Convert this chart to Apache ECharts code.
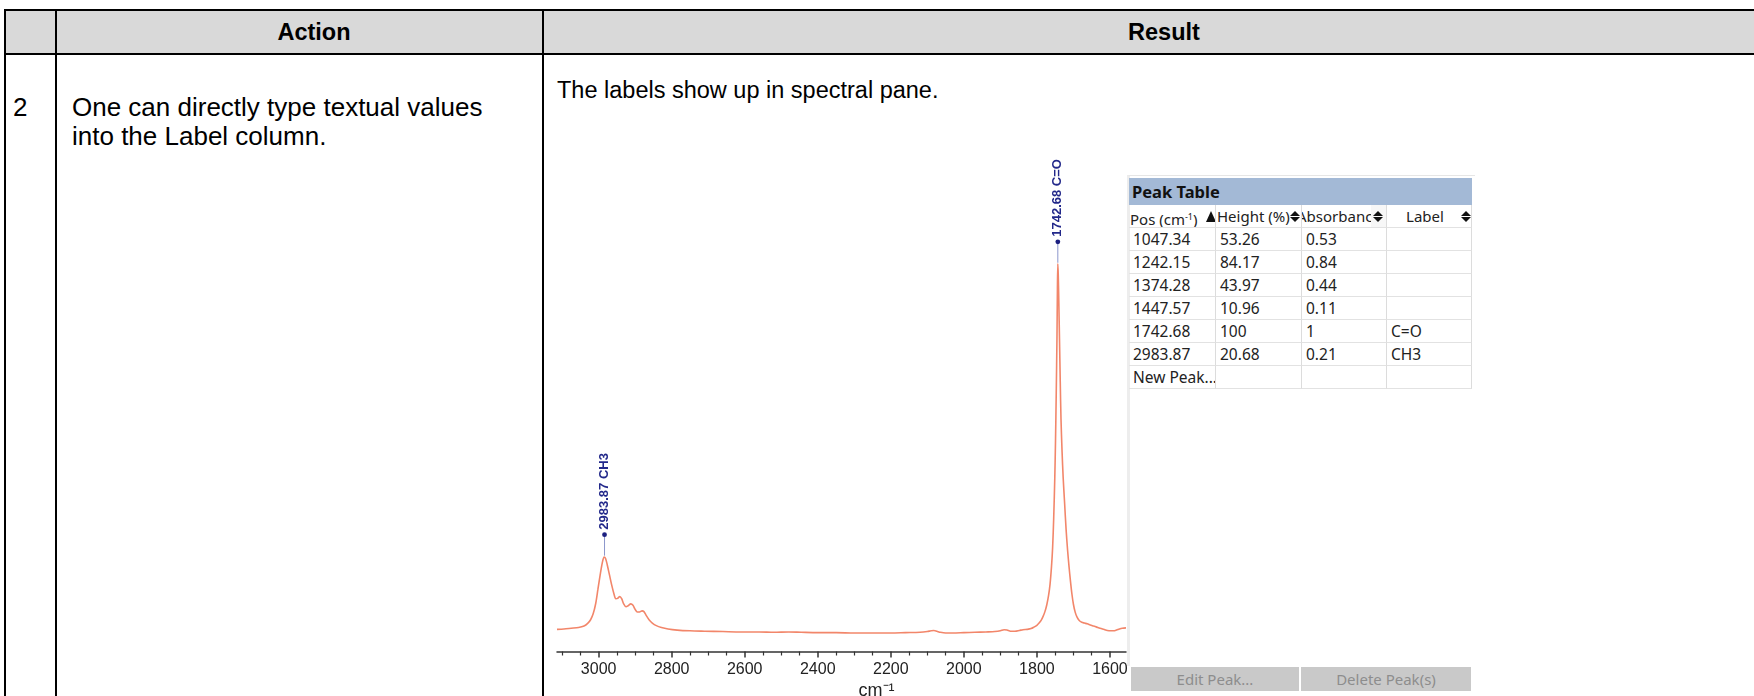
<!DOCTYPE html>
<html>
<head>
<meta charset="utf-8">
<script src="https://cdn.jsdelivr.net/npm/echarts@6/dist/echarts.min.js"></script>
<style>
html,body{margin:0;padding:0;background:#fff;width:1754px;height:696px;overflow:hidden;font-family:"Liberation Sans",Arial,sans-serif;color:#000;}
.a{position:absolute;}
.ln{position:absolute;background:#000;}
#chart{position:absolute;left:0;top:0;width:1754px;height:696px;}
.doc{position:absolute;white-space:nowrap;}
.hdr{position:absolute;font-size:23.5px;font-weight:bold;line-height:44px;top:10px;text-align:center;}
#panel{position:absolute;left:1127px;top:175px;width:345px;height:490px;border-top:1px solid #e6e6e6;border-left:3px solid #ededed;background:#fff;}
#ptbar{position:absolute;left:1129px;top:178px;width:343px;height:27px;background:#a3b9d6;font-family:"Noto Sans","Open Sans",sans-serif;font-weight:bold;font-size:16.5px;line-height:27px;color:#111;padding-left:3px;box-sizing:border-box;}
#pt{position:absolute;left:1129px;top:205px;font-family:"Noto Sans","Open Sans",sans-serif;font-size:15.5px;color:#222;}
.row{position:relative;height:23px;white-space:nowrap;}
.cell{position:absolute;top:0;height:23px;line-height:23px;border-right:1px solid #dcdcdc;border-bottom:1px solid #e2e2e2;box-sizing:border-box;padding-left:4px;overflow:hidden;}
.hrow .cell{font-size:15px;}
.sort{position:absolute;width:10px;height:11px;top:6px;}
.sort:before{content:"";position:absolute;left:0;top:0;border-left:5px solid transparent;border-right:5px solid transparent;border-bottom:5px solid #111;}
.sort:after{content:"";position:absolute;left:0;top:6px;border-left:5px solid transparent;border-right:5px solid transparent;border-top:5px solid #111;}
.asc{position:absolute;width:0;height:0;top:6px;border-left:5px solid transparent;border-right:5px solid transparent;border-bottom:11px solid #111;}
.btn{position:absolute;top:667px;height:24px;background:#c9c9c9;color:#8d8d8d;font-family:"Noto Sans","Open Sans",sans-serif;font-size:15px;line-height:24px;text-align:center;}
</style>
</head>
<body>
<!-- document table frame -->
<div class="a" style="left:5px;top:10px;width:1749px;height:44px;background:#d9d9d9;"></div>
<div class="ln" style="left:4px;top:9px;width:1750px;height:2px;"></div>
<div class="ln" style="left:4px;top:53px;width:1750px;height:2px;"></div>
<div class="ln" style="left:4px;top:9px;width:2px;height:687px;"></div>
<div class="ln" style="left:55px;top:9px;width:2px;height:687px;"></div>
<div class="ln" style="left:542px;top:9px;width:2px;height:687px;"></div>
<div class="hdr" style="left:128px;width:372px;">Action</div>
<div class="hdr" style="left:544px;width:1240px;">Result</div>
<div class="doc" style="left:13px;top:93px;font-size:26px;line-height:29px;">2</div>
<div class="doc" style="left:72px;top:93px;font-size:26px;line-height:29px;">One can directly type textual values<br>into the Label column.</div>
<div class="doc" style="left:557px;top:77px;font-size:23.5px;line-height:26px;">The labels show up in spectral pane.</div>

<div id="chart"></div>

<div id="panel"></div>
<div id="ptbar">Peak Table</div>
<div id="pt"></div>
<div class="btn" style="left:1131px;width:168px;">Edit Peak...</div>
<div class="btn" style="left:1301px;width:170px;">Delete Peak(s)</div>

<script>
// ---- spectrum (wavenumber cm-1, normalised height %) ----
const wavenumber = [3114,3095,3075,3055,3040,3030,3022,3015,3008,3002,2996,2990,2985,2981,2976,2970,2964,2958,2953,2948,2942,2937,2931,2925,2919,2912,2906,2900,2894,2888,2881,2876,2870,2862,2853,2842,2828,2810,2785,2750,2710,2660,2610,2560,2520,2480,2445,2400,2350,2300,2250,2200,2160,2120,2100,2090,2082,2074,2064,2050,2030,2000,1970,1940,1915,1900,1890,1882,1872,1860,1848,1838,1826,1816,1808,1800,1794,1788,1783,1778,1773,1768,1764,1760,1757,1754,1751,1749,1747,1745,1743.8,1742.7,1741.5,1740,1738,1736,1734,1731,1728,1724,1720,1716,1712,1708,1704,1700,1695,1690,1684,1677,1670,1662,1654,1645,1636,1627,1617,1607,1598,1590,1582,1574,1566,1556];
const heightPct = [1.0,1.1,1.3,1.5,1.9,2.6,3.6,5.2,8.0,11.8,15.6,19.0,20.6,20.2,18.3,15.6,12.9,10.6,9.3,9.4,9.9,9.3,7.8,7.1,7.4,7.9,7.5,6.4,5.7,5.7,6.0,5.8,4.8,3.6,2.7,2.0,1.5,1.1,0.8,0.6,0.5,0.4,0.3,0.3,0.2,0.3,0.2,0.1,0.1,0.0,0.0,0.0,0.1,0.2,0.4,0.6,0.7,0.5,0.2,0.0,0.0,0.1,0.2,0.3,0.4,0.6,0.9,0.8,0.5,0.5,0.7,0.9,1.0,1.2,1.6,2.1,2.7,3.5,4.5,5.8,7.6,10.2,13.2,18.0,23.0,31.0,42.0,52.0,65.0,80.0,93.0,100.0,97.0,90.0,79.0,68.0,58.0,49.0,42.0,35.0,28.0,22.5,18.0,14.0,10.5,7.8,5.6,4.3,3.4,2.9,2.7,2.5,2.2,1.9,1.6,1.3,1.0,0.7,0.6,0.6,0.8,1.1,1.3,1.4];

// ---- peak table ----
const peakPos = [1047.34,1242.15,1374.28,1447.57,1742.68,2983.87];
const peakHeight = [53.26,84.17,43.97,10.96,100,20.68];
const peakAbs = ['0.53','0.84','0.44','0.11','1','0.21'];
const peakLabel = ['','','','','C=O','CH3'];

// ---- axis ----
const xTicks = [1600,1800,2000,2200,2400,2600,2800,3000];
const xMin = 1556, xMax = 3114;

// build peak table html
(function(){
  const colL = [0,87,173,258];
  const colW = [87,86,85,85];
  let h = '';
  h += '<div class="row hrow" style="background:#f7f7f7">';
  h += '<div class="cell" style="left:0;width:87px;padding-left:1px">Pos (cm<sup style="font-size:9px;vertical-align:5px">-1</sup>)<span class="asc" style="left:77px"></span></div>';
  h += '<div class="cell" style="left:87px;width:86px;padding-left:1px">Height (%)<span class="sort" style="left:74px"></span></div>';
  h += '<div class="cell" style="left:173px;width:85px;padding-left:0"><span style="position:absolute;left:-5px">Absorbance</span><span style="position:absolute;left:69px;top:0;width:16px;height:22px;background:#f7f7f7"></span><span class="sort" style="left:71px"></span></div>';
  h += '<div class="cell" style="left:258px;width:85px;padding-left:0;text-align:center;padding-right:8px">Label<span class="sort" style="left:74px"></span></div>';
  h += '</div>';
  for (let i = 0; i < peakPos.length; i++) {
    const bg = (i % 2 === 1) ? '#ececec' : '#ffffff';
    const vals = [peakPos[i].toFixed(2), String(peakHeight[i]), peakAbs[i], peakLabel[i]];
    h += '<div class="row" style="background:' + bg + '">';
    for (let c = 0; c < 4; c++) {
      h += '<div class="cell" style="left:' + colL[c] + 'px;width:' + colW[c] + 'px">' + vals[c] + '</div>';
    }
    h += '</div>';
  }
  h += '<div class="row" style="background:#fff">';
  const nv = ['New Peak...','','',''];
  for (let c = 0; c < 4; c++) {
    h += '<div class="cell" style="left:' + colL[c] + 'px;width:' + colW[c] + 'px">' + nv[c] + '</div>';
  }
  h += '</div>';
  document.getElementById('pt').innerHTML = h;
})();

const spectrum = wavenumber.map((w, i) => [w, heightPct[i]]);
const markers = [];
const markerText = [];
peakPos.forEach((p, i) => {
  if (peakLabel[i]) {
    markers.push([p, peakHeight[i]]);
    markerText.push(p.toFixed(2) + ' ' + peakLabel[i]);
  }
});

const chart = echarts.init(document.getElementById('chart'), null, {renderer: 'canvas'});
chart.setOption({
  animation: false,
  grid: {left: 557, top: 153, width: 569, height: 498.5, containLabel: false, outerBoundsMode: 'none'},
  xAxis: {
    type: 'value',
    inverse: true,
    min: xMin,
    max: xMax,
    splitNumber: 8,
    name: 'cm\u207B\u00B9',
    nameLocation: 'middle',
    nameGap: 25,
    nameTextStyle: {fontFamily: '"Liberation Sans", Arial', fontSize: 18, color: '#222', padding: [0, 0, 0, 70]},
    axisLine: {show: true, onZero: false, lineStyle: {color: '#333', width: 1.5}},
    axisTick: {show: true, customValues: xTicks, length: 6, lineStyle: {color: '#333', width: 1.5}},
    minorTick: {show: true, splitNumber: 4, length: 4, lineStyle: {color: '#333', width: 1.2}},
    axisLabel: {customValues: xTicks, formatter: function (v) { return String(v); },
      fontFamily: '"Liberation Sans", Arial', fontSize: 16, color: '#222', margin: 10},
    splitLine: {show: false},
    minorSplitLine: {show: false}
  },
  yAxis: {type: 'value', min: -5, max: 130, show: false, splitLine: {show: false}},
  series: [
    {
      type: 'line',
      data: spectrum,
      showSymbol: false,
      smooth: 0.3,
      lineStyle: {color: '#f2866a', width: 1.6},
      clip: true,
      z: 2
    },
    {
      type: 'custom',
      data: markers,
      clip: false,
      z: 3,
      renderItem: function (params, api) {
        const p = api.coord([api.value(0), api.value(1)]);
        const txt = markerText[params.dataIndex];
        return {
          type: 'group',
          children: [
            {type: 'line', shape: {x1: p[0], y1: p[1] - 1, x2: p[0], y2: p[1] - 21}, style: {stroke: '#8c97cc', lineWidth: 1}},
            {type: 'circle', shape: {cx: p[0], cy: p[1] - 22, r: 2.4}, style: {fill: '#1c2080'}},
            {type: 'text', x: p[0], y: p[1] - 27, rotation: Math.PI / 2,
              style: {text: txt, fill: '#22288a', fontFamily: '"Liberation Sans", Arial', fontWeight: 'bold', fontSize: 13,
                      align: 'left', verticalAlign: 'middle', textAlign: 'left', textVerticalAlign: 'middle'}}
          ]
        };
      }
    }
  ]
});
</script>
</body>
</html>
